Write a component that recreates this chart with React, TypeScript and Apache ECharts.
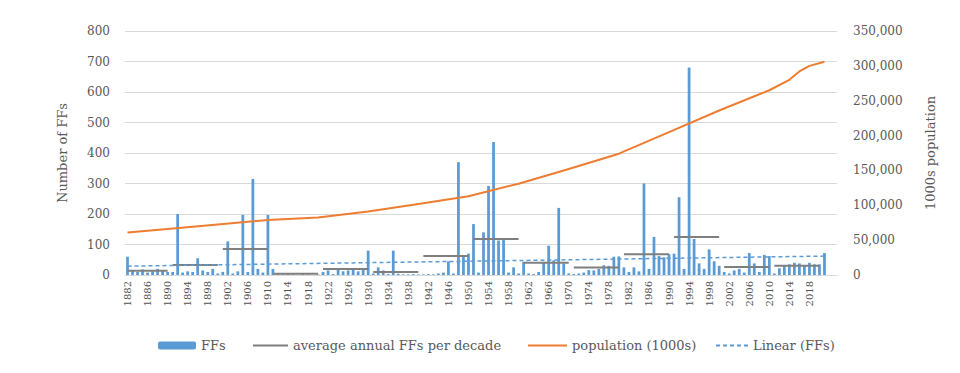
import React, { useEffect, useRef } from "react";
import * as echarts from "echarts";

// Category range (years); the plot area runs a little past the last data year
const firstYear = 1882;
const lastAxisYear = 2023;
const lastDataYear = 2021;

// Annual number of FFs, 1882..2021
const ffValues: number[] = [
  // 1882-1890
  60, 15, 10, 18, 8, 12, 20, 15, 10,
  // 1891-1900
  10, 200, 8, 12, 10, 55, 15, 10, 20, 5,
  // 1901-1910
  10, 110, 5, 12, 197, 10, 315, 20, 8, 197,
  // 1911-1920
  20, 3, 2, 4, 2, 0, 3, 2, 0, 2,
  // 1921-1930
  10, 15, 3, 18, 12, 15, 20, 12, 18, 80,
  // 1931-1940
  5, 25, 15, 3, 80, 4, 2, 2, 3, 2,
  // 1941-1950
  2, 3, 2, 5, 8, 45, 5, 370, 60, 70,
  // 1951-1960
  167, 8, 140, 292, 436, 113, 121, 8, 25, 5,
  // 1961-1970
  43, 5, 3, 10, 43, 96, 48, 220, 38, 5,
  // 1971-1980
  3, 5, 8, 16, 15, 20, 32, 30, 60, 61,
  // 1981-1990
  25, 10, 25, 12, 300, 20, 125, 62, 58, 68,
  // 1991-2000
  70, 255, 20, 680, 118, 38, 20, 84, 45, 30,
  // 2001-2010
  10, 5, 15, 20, 8, 72, 38, 10, 66, 62,
  // 2011-2021
  5, 22, 30, 35, 40, 38, 32, 40, 35, 35, 72,
];

// Average annual FFs per decade
const decadeStart: number[] = [1882, 1891, 1901, 1911, 1921, 1931, 1941, 1951, 1961, 1971, 1981, 1991, 2001, 2011];
const decadeEnd: number[] = [1890, 1900, 1910, 1920, 1930, 1940, 1950, 1960, 1970, 1980, 1990, 2000, 2010, 2020];
const decadeAvg: number[] = [14, 33, 85, 4, 20, 10, 62, 118, 40, 25, 68, 125, 26, 30];

// Population (1000s), read at selected years
const popYears: number[] = [1882, 1890, 1900, 1910, 1920, 1930, 1940, 1950, 1960, 1970, 1980, 1990, 2000, 2010, 2014, 2016, 2018, 2021];
const popValues: number[] = [61000, 66000, 72500, 79000, 82500, 91000, 102000, 113000, 131000, 152000, 174000, 205000, 236000, 265000, 280000, 292000, 300000, 306000];

// Linear trend of FFs (end points)
const trendYears: number[] = [1882, 2021];
const trendValues: number[] = [29, 62];

const leftTicks = { min: 0, max: 800, interval: 100 };
const rightTicks = { min: 0, max: 350000, interval: 50000 };

const FONT = "DejaVu Serif";
const TEXT = "#595959";

export default function App() {
  const ref = useRef<HTMLDivElement>(null);

  useEffect(() => {
    if (!ref.current) return;
    const chart = echarts.init(ref.current, undefined, { renderer: "svg" });

    const categories: string[] = [];
    for (let y = firstYear; y <= lastAxisYear; y++) categories.push(String(y));

    const decadeSeries = decadeAvg.map((a, i) => ({
      type: "line",
      name: "average annual FFs per decade",
      yAxisIndex: 0,
      data: [
        [String(decadeStart[i]), a],
        [String(decadeEnd[i]), a],
      ],
      symbol: "none",
      lineStyle: { color: "#7F7F7F", width: 2 },
      itemStyle: { color: "#7F7F7F" },
      z: 3,
    }));

    const legendText = { fontFamily: FONT, fontSize: 13, color: TEXT };
    const hideSymbol = { opacity: 0 };

    chart.setOption({
      animation: false,
      backgroundColor: "#ffffff",
      grid: { left: 125, right: 123, top: 31, bottom: 98 },
      legend: [
        { data: ["FFs"], left: 153, top: 334, itemWidth: 38, itemHeight: 8, textStyle: legendText },
        { data: ["average annual FFs per decade"], left: 247, top: 334, itemWidth: 35, itemHeight: 8, itemStyle: hideSymbol, textStyle: legendText },
        { data: ["population (1000s)"], left: 522, top: 334, itemWidth: 39, itemHeight: 8, itemStyle: hideSymbol, textStyle: legendText },
        { data: ["Linear (FFs)"], left: 710, top: 334, itemWidth: 32, itemHeight: 8, itemStyle: hideSymbol, textStyle: legendText },
      ],
      xAxis: {
        type: "category",
        data: categories,
        boundaryGap: true,
        axisLine: { lineStyle: { color: "#d9d9d9" } },
        axisTick: { show: false },
        axisLabel: {
          rotate: 90,
          interval: (index: number, value: string) => index % 4 === 0 && Number(value) <= lastDataYear,
          fontFamily: FONT,
          fontSize: 10,
          color: "#505050",
          margin: 6,
        },
      },
      yAxis: [
        {
          type: "value",
          ...leftTicks,
          name: "Number of FFs",
          nameLocation: "middle",
          nameGap: 56,
          nameRotate: 90,
          nameTextStyle: { fontFamily: FONT, fontSize: 13, color: TEXT },
          axisLine: { show: false },
          axisTick: { show: false },
          axisLabel: { fontFamily: FONT, fontSize: 12, color: TEXT, margin: 15 },
          splitLine: { lineStyle: { color: "#d9d9d9", width: 1 } },
        },
        {
          type: "value",
          ...rightTicks,
          position: "right",
          name: "1000s population",
          nameLocation: "middle",
          nameGap: 87,
          nameRotate: 90,
          nameTextStyle: { fontFamily: FONT, fontSize: 13, color: TEXT },
          axisLine: { show: false },
          axisTick: { show: false },
          axisLabel: {
            fontFamily: FONT,
            fontSize: 12,
            color: TEXT,
            margin: 16,
            formatter: (v: number) => v.toLocaleString("en-US"),
          },
          splitLine: { show: false },
        },
      ],
      series: [
        {
          type: "bar",
          name: "FFs",
          yAxisIndex: 0,
          data: ffValues,
          barWidth: "55%",
          itemStyle: { color: "#5B9BD5" },
          z: 2,
        },
        ...decadeSeries,
        {
          type: "line",
          name: "population (1000s)",
          yAxisIndex: 1,
          data: popYears.map((y, i) => [String(y), popValues[i]]),
          smooth: false,
          symbol: "none",
          lineStyle: { color: "#ED7D31", width: 2, join: "round" },
          itemStyle: { color: "#ED7D31" },
          z: 4,
        },
        {
          type: "line",
          name: "Linear (FFs)",
          yAxisIndex: 0,
          data: trendYears.map((y, i) => [String(y), trendValues[i]]),
          symbol: "none",
          lineStyle: { color: "#5B9BD5", width: 1.5, type: [4, 3] },
          itemStyle: { color: "#5B9BD5" },
          z: 5,
        },
      ],
    });

    return () => chart.dispose();
  }, []);

  return (
    <div
      ref={ref}
      style={{ position: "fixed", left: 0, top: 0, width: 960, height: 373, background: "#fff" }}
    />
  );
}
